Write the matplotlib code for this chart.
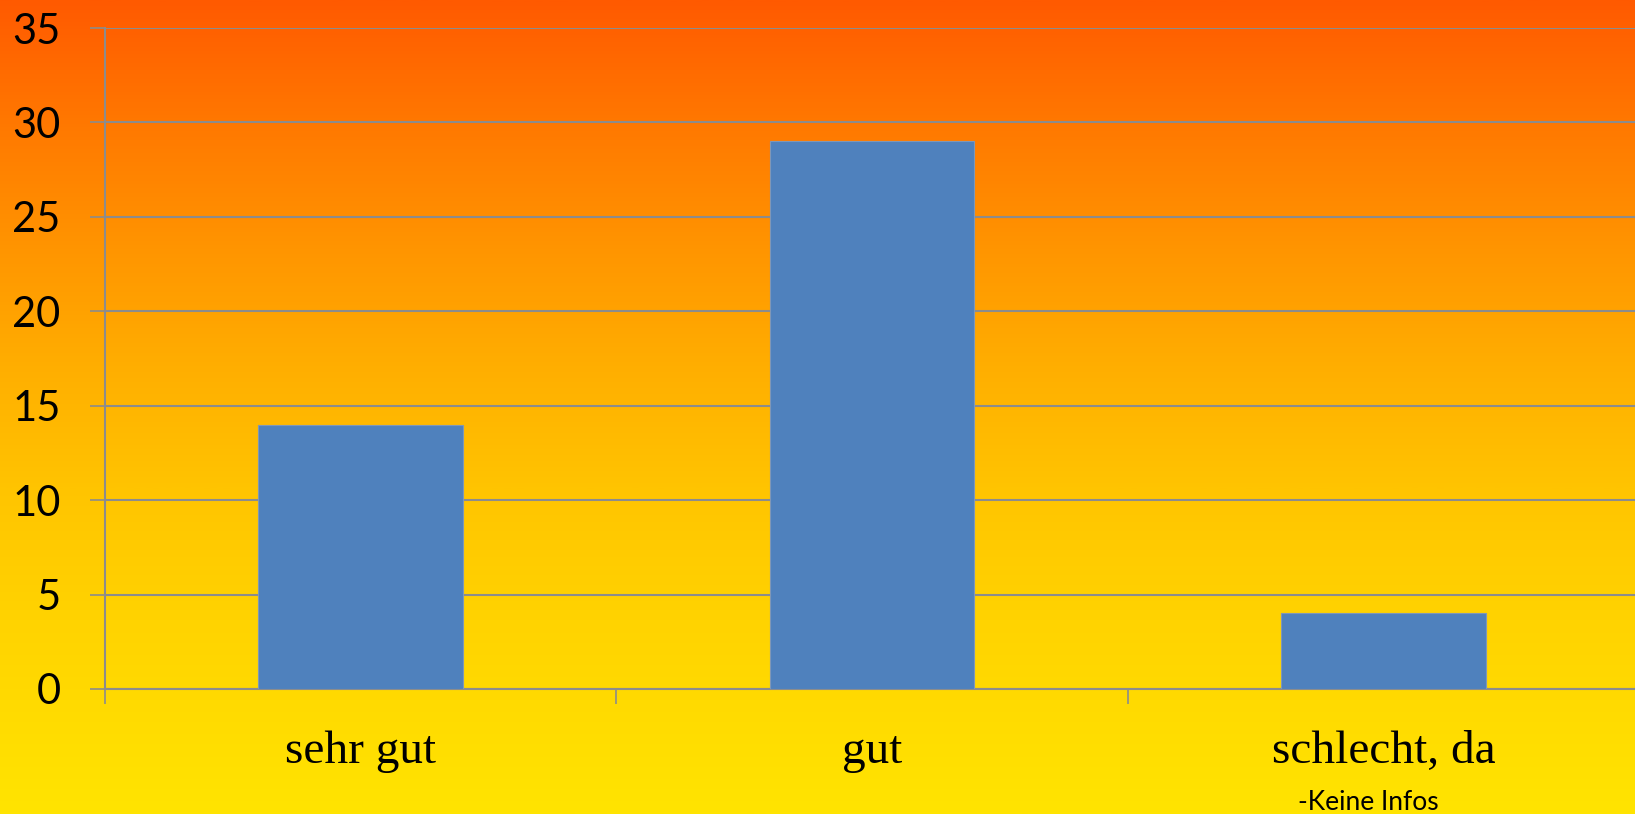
import numpy as np
import matplotlib.pyplot as plt
from matplotlib.colors import LinearSegmentedColormap

categories = ['sehr gut', 'gut', 'schlecht, da']
values = [14, 29, 4]
y_ticks = [0, 5, 10, 15, 20, 25, 30, 35]
note = '-Keine Infos'

# background gradient stops (top -> bottom)
grad_pos = [0.0, 0.15, 0.3, 0.45, 0.6, 0.75, 1.0]
grad_col = ['#ff5a00', '#ff7800', '#ff9400', '#ffae00', '#ffc400', '#ffd200', '#ffe400']

fig = plt.figure(figsize=(16.35, 8.14), dpi=100)

bg = fig.add_axes([0, 0, 1, 1], zorder=-10)
cmap = LinearSegmentedColormap.from_list('bg', list(zip(grad_pos, grad_col)))
bg.imshow(np.linspace(0, 1, 512).reshape(-1, 1), aspect='auto', cmap=cmap,
          extent=[0, 1, 1, 0])
bg.set_xlim(0, 1)
bg.set_ylim(1, 0)
bg.axis('off')

ax = fig.add_axes([105 / 1635, 125 / 814, 1534 / 1635, 661 / 814])
ax.patch.set_alpha(0)

x = np.arange(len(categories))
ax.bar(x, values, width=0.4, color='#4f81bd', edgecolor='#7f97b8',
       linewidth=0.8, zorder=3)

ax.set_ylim(0, 35)
ax.set_xlim(-0.5, 2.5)
ax.set_yticks(y_ticks)
ax.set_yticklabels([str(v) for v in y_ticks], fontsize=30, family='Lato')
ax.grid(axis='y', color='#8c8c8c', linewidth=1.5, zorder=1)
ax.set_axisbelow(True)

ax.set_xticks([-0.5, 0.5, 1.5, 2.5])
ax.set_xticklabels([])
ax.set_xticks(x, minor=True)
ax.set_xticklabels(categories, minor=True, fontsize=34, family='Liberation Serif')
ax.tick_params(axis='x', which='minor', length=0, pad=30)
ax.tick_params(axis='x', which='major', length=11, width=1.2, color='#8c8c8c')
ax.tick_params(axis='y', length=11, width=1.2, color='#8c8c8c', pad=21)

for s in ['top', 'right']:
    ax.spines[s].set_visible(False)
for s in ['left', 'bottom']:
    ax.spines[s].set_color('#8c8c8c')
    ax.spines[s].set_linewidth(1.5)

fig.text(1368 / 1635, 1 - 803 / 814, note, fontsize=19, family='Lato',
         ha='center', va='center')

fig.savefig('out.png', dpi=100)
